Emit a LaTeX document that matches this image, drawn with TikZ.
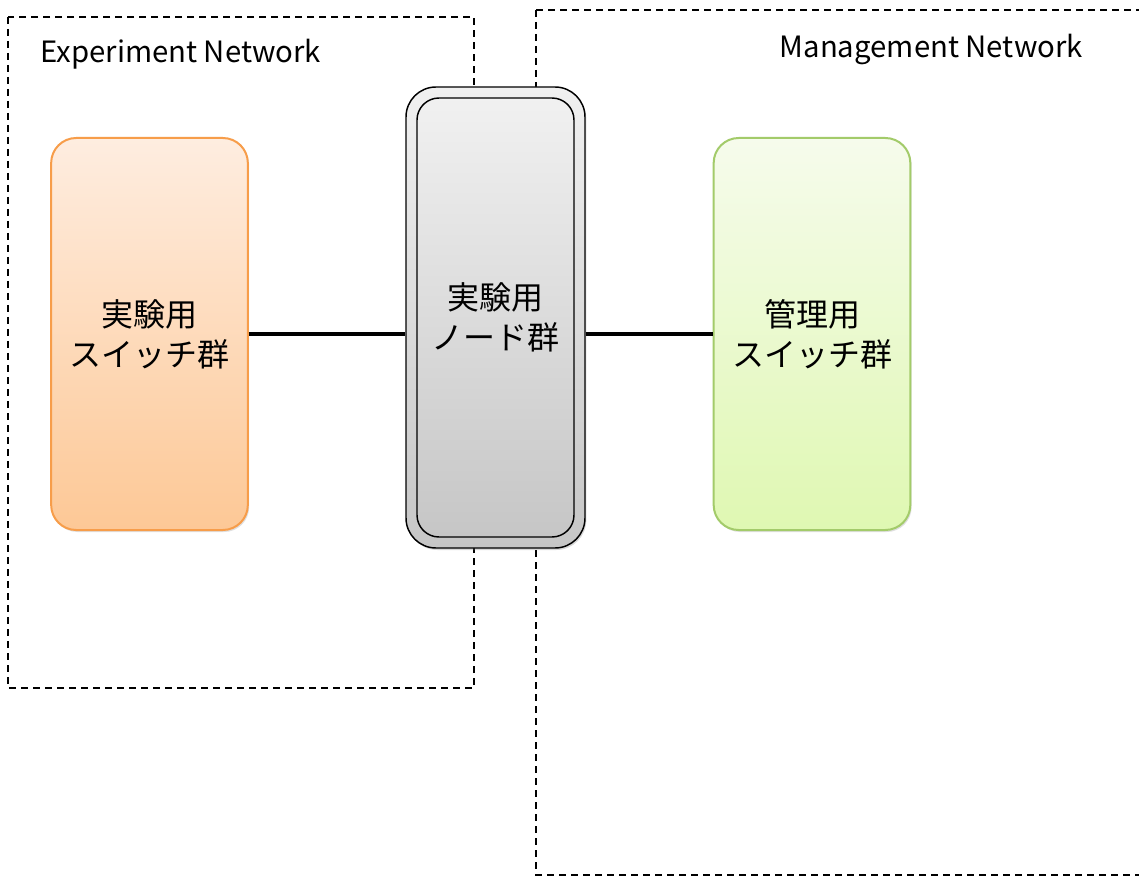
\documentclass[tikz,border=0pt]{standalone}
\usepackage{fontspec}
\setmainfont{Noto Sans CJK JP}
\usetikzlibrary{shadows}
\definecolor{orangeline}{HTML}{F79D4A}
\definecolor{orangetop}{HTML}{FEEDE0}
\definecolor{orangebot}{HTML}{FDC896}
\definecolor{greenline}{HTML}{A3CB6A}
\definecolor{greentop}{HTML}{F6FBEC}
\definecolor{greenbot}{HTML}{DFF8B2}
\definecolor{graytop}{HTML}{F0F0F0}
\definecolor{graybot}{HTML}{C6C6C6}
\tikzset{
  netbox/.style={draw=black, line width=1.1pt, dash pattern=on 5.5pt off 3.5pt},
  netlabel/.style={font=\fontsize{22}{26}\selectfont, inner sep=0pt},
  groupbox/.style={rounded corners=18.75pt, line width=1.5pt, minimum width=147.5pt,
    minimum height=294pt, align=center, font=\fontsize{24}{30}\selectfont,
    drop shadow={shadow xshift=1pt, shadow yshift=-1.5pt, opacity=0.25}},
  expbox/.style={groupbox, draw=orangeline, top color=orangetop, bottom color=orangebot},
  mgmtbox/.style={groupbox, draw=greenline, top color=greentop, bottom color=greenbot},
  nodeouter/.style={draw=black, line width=1.1pt, rounded corners=22.5pt,
    minimum width=134.25pt, minimum height=345.75pt, top color=graytop, bottom color=graybot,
    drop shadow={shadow xshift=1pt, shadow yshift=-1.5pt, opacity=0.3}},
  nodeinner/.style={draw=black, line width=1.1pt, rounded corners=16.5pt,
    minimum width=117.75pt, minimum height=329.25pt, top color=graytop!95!white, bottom color=graybot,
    align=center, font=\fontsize{24}{30}\selectfont},
  link/.style={draw=black, line width=2.6pt}
}
\begin{document}
\begin{tikzpicture}[x=0.75pt, y=-0.75pt]
  \useasboundingbox (0,0) rectangle (1139,877);
  \fill[white] (0,0) rectangle (1139,877);

  % network areas
  \draw[netbox] (8,17) rectangle (474,688);
  \draw[netbox] (536,10) -- (1139,10) (536,10) -- (536,875) -- (1139,875);
  \node[netlabel, anchor=west] (expnet) at (40,54) {Experiment Network};
  \node[netlabel, anchor=east] (mgmtnet) at (1083,49) {Management Network};

  % switch groups and node group
  \node[expbox] (expsw) at (149.5,334) {実験用\\スイッチ群};
  \node[mgmtbox] (mgmtsw) at (812,334) {管理用\\スイッチ群};
  \node[nodeouter] (nodesout) at (495.5,317.5) {};
  \node[nodeinner] (nodes) at (495.5,317.5) {実験用\\ノード群};

  % links
  \draw[link] (expsw.east) -- (expsw.east -| nodesout.west);
  \draw[link] (nodesout.east |- mgmtsw.west) -- (mgmtsw.west);
\end{tikzpicture}
\end{document}
